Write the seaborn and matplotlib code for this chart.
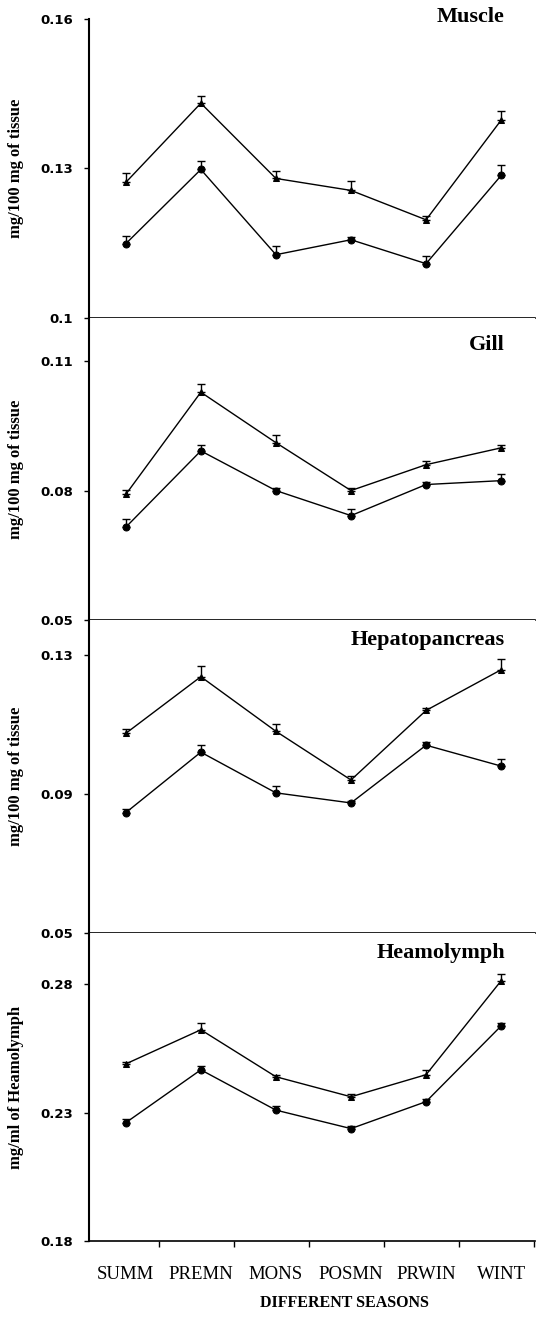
import numpy as np
import pandas as pd
import matplotlib
matplotlib.use("Agg")
import matplotlib.pyplot as plt
import seaborn as sns

# seasons on the shared x axis
seasons = ["SUMM", "PREMN", "MONS", "POSMN", "PRWIN", "WINT"]

# values (upper = triangle series, lower = circle series)
muscle_hi = [0.1272, 0.1431, 0.1280, 0.1256, 0.1197, 0.1397]
muscle_hi_err = [0.0018, 0.0014, 0.0014, 0.0018, 0.0008, 0.0018]
muscle_lo = [0.1149, 0.1298, 0.1127, 0.1157, 0.1109, 0.1286]
muscle_lo_err = [0.0016, 0.0018, 0.0018, 0.0006, 0.0016, 0.0020]

gill_hi = [0.0791, 0.1028, 0.0911, 0.0800, 0.0860, 0.0899]
gill_hi_err = [0.0010, 0.0019, 0.0018, 0.0007, 0.0009, 0.0007]
gill_lo = [0.0715, 0.0892, 0.0800, 0.0742, 0.0814, 0.0823]
gill_lo_err = [0.0018, 0.0014, 0.0005, 0.0015, 0.0006, 0.0015]

hep_hi = [0.1074, 0.1237, 0.1080, 0.0940, 0.1140, 0.1257]
hep_hi_err = [0.0012, 0.0030, 0.0020, 0.0011, 0.0008, 0.0030]
hep_lo = [0.0846, 0.1020, 0.0903, 0.0874, 0.1040, 0.0980]
hep_lo_err = [0.0012, 0.0022, 0.0020, 0.0006, 0.0008, 0.0020]

heam_hi = [0.2490, 0.2623, 0.2440, 0.2362, 0.2448, 0.2814]
heam_hi_err = [0.0008, 0.0028, 0.0008, 0.0012, 0.0018, 0.0028]
heam_lo = [0.2261, 0.2467, 0.2310, 0.2238, 0.2343, 0.2638]
heam_lo_err = [0.0015, 0.0016, 0.0016, 0.0012, 0.0012, 0.0012]

panel_names = ["Muscle", "Gill", "Hepatopancreas", "Heamolymph"]
panel_ylabels = ["mg/100 mg of tissue", "mg/100 mg of tissue",
                 "mg/100 mg of tissue", "mg/ml of Heamolymph"]
ytick_values = [[0.10, 0.13, 0.16], [0.05, 0.08, 0.11],
                [0.05, 0.09, 0.13], [0.18, 0.23, 0.28]]
ytick_labels = [["0.1", "0.13", "0.16"], ["0.05", "0.08", "0.11"],
                ["0.05", "0.09", "0.13"], ["0.18", "0.23", "0.28"]]
ylims = [(0.10, 0.16), (0.05, 0.12), (0.05, 0.14), (0.18, 0.30)]

panels = [
    (muscle_hi, muscle_hi_err, muscle_lo, muscle_lo_err),
    (gill_hi, gill_hi_err, gill_lo, gill_lo_err),
    (hep_hi, hep_hi_err, hep_lo, hep_lo_err),
    (heam_hi, heam_hi_err, heam_lo, heam_lo_err),
]

sns.set_style("ticks")
plt.rcParams['font.family'] = ['Liberation Serif', 'DejaVu Serif']
plt.rcParams['text.color'] = 'black'
plt.rcParams['axes.labelcolor'] = 'black'
plt.rcParams['xtick.color'] = 'black'
plt.rcParams['ytick.color'] = 'black'

fig, axes = plt.subplots(4, 1, figsize=(5.36, 13.18), dpi=100, sharex=True,
                         gridspec_kw={'height_ratios': [299, 302, 313, 308], 'hspace': 0})
fig.subplots_adjust(left=0.166, right=0.998, top=0.9856, bottom=0.0584)

title_drop = [-2, 27, 20, 20]  # px below top of each panel
x_idx = np.arange(len(seasons))

for i, ax in enumerate(axes):
    hi, hi_err, lo, lo_err = panels[i]
    df = pd.DataFrame({
        'season_idx': list(x_idx) * 2,
        'value': hi + lo,
        'series': ['upper'] * 6 + ['lower'] * 6,
    })
    sns.lineplot(data=df, x='season_idx', y='value', style='series',
                 markers={'upper': '^', 'lower': 'o'}, dashes=False,
                 color='black', markersize=5, markeredgecolor='black',
                 linewidth=1, legend=False, errorbar=None, ax=ax)
    # one-sided (upper) error bars
    for vals, errs in [(hi, hi_err), (lo, lo_err)]:
        ax.errorbar(x_idx, vals, yerr=[np.zeros(6), errs], fmt='none',
                    ecolor='black', elinewidth=1, capsize=3, capthick=1)

    ax.set_ylim(*ylims[i])
    ax.set_yticks(ytick_values[i])
    ax.set_yticklabels(ytick_labels[i], fontfamily='DejaVu Sans',
                       fontweight='bold', fontsize=9.5)
    ax.tick_params(axis='y', length=3.5, width=1, pad=8)
    ax.set_ylabel(panel_ylabels[i], fontsize=12, fontweight='bold')
    ax.yaxis.set_label_coords(-0.146, 0.5)
    ax.set_xlabel('')

    sns.despine(ax=ax)
    ax.spines['left'].set_linewidth(1.5)
    ax.spines['bottom'].set_linewidth(1.2)
    ax.spines['left'].set_color('black')
    ax.spines['bottom'].set_color('black')

    ax.annotate(panel_names[i], xy=(1, 1), xycoords='axes fraction',
                xytext=(-30, -title_drop[i]), textcoords='offset pixels',
                ha='right', va='center', fontsize=16, fontweight='bold')

    ax.tick_params(axis='x', which='both', bottom=False, labelbottom=False)

# shared category axis on the last panel
bottom_ax = axes[-1]
bottom_ax.set_xlim(-0.49, 5.45)
bottom_ax.set_xticks(x_idx)
bottom_ax.set_xticklabels(seasons, fontsize=13.5)
bottom_ax.set_xticks(x_idx + 0.44, minor=True)
bottom_ax.tick_params(axis='x', which='major', bottom=True, labelbottom=True,
                      length=0, pad=18)
bottom_ax.tick_params(axis='x', which='minor', bottom=True, length=4, width=1)

fig.text(0.642, 0.0114, "DIFFERENT SEASONS", ha='center', va='center',
         fontsize=11.5, fontweight='bold')

fig.savefig("out.png", dpi=100)
